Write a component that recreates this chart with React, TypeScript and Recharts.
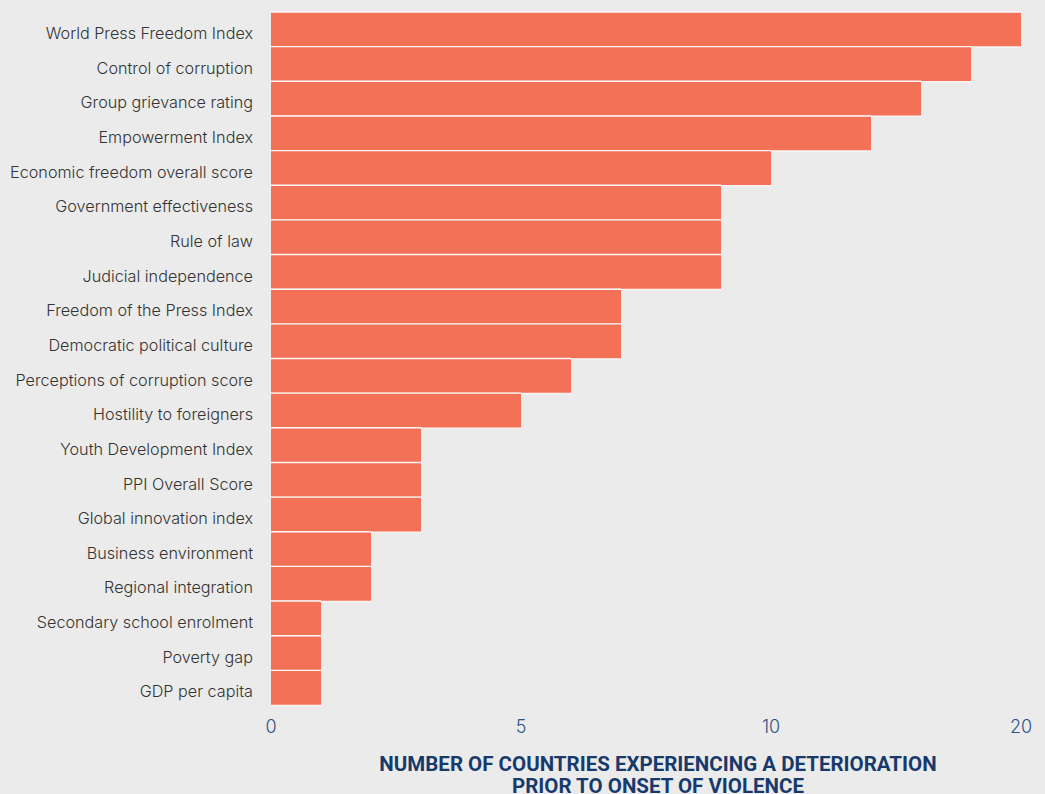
import React from "react";
import { BarChart, Bar, XAxis, YAxis } from "recharts";

const categories = [
  "World Press Freedom Index",
  "Control of corruption",
  "Group grievance rating",
  "Empowerment Index",
  "Economic freedom overall score",
  "Government effectiveness",
  "Rule of law",
  "Judicial independence",
  "Freedom of the Press Index",
  "Democratic political culture",
  "Perceptions of corruption score",
  "Hostility to foreigners",
  "Youth Development Index",
  "PPI Overall Score",
  "Global innovation index",
  "Business environment",
  "Regional integration",
  "Secondary school enrolment",
  "Poverty gap",
  "GDP per capita",
];
const counts = [15, 14, 13, 12, 10, 9, 9, 9, 7, 7, 6, 5, 3, 3, 3, 2, 2, 1, 1, 1];
const xTickValues = [0, 5, 10, 15];
const xTickLabels = ["0", "5", "10", "20"];
const axisTitle = [
  "NUMBER OF COUNTRIES EXPERIENCING A DETERIORATION",
  "PRIOR TO ONSET OF VIOLENCE",
];

const data = categories.map((name, i) => ({ name, value: counts[i] }));

const BAR = "#f37257";
const BG = "#ebebeb";

const BarShape = (props: any) => {
  const { x, y, width, height } = props;
  return (
    <g>
      <rect x={x} y={y} width={width} height={height} fill={BAR} />
      <line x1={x} x2={x + width} y1={y} y2={y} stroke="#f7f7f7" strokeWidth={1.4} />
      <line x1={x} x2={x + width} y1={y + height} y2={y + height} stroke="#f7f7f7" strokeWidth={1.4} />
    </g>
  );
};

const TitleLabel = (props: any) => {
  const vb = props.viewBox || {};
  const cx = vb.x + vb.width / 2 + 12;
  const y0 = vb.y;
  return (
    <g>
      {axisTitle.map((t, i) => (
        <text
          key={i}
          x={cx}
          y={y0 + 66 + i * 22}
          textAnchor="middle"
          fill="#173a6b"
          fontFamily="'Liberation Sans Narrow', 'Roboto', sans-serif"
          fontWeight={700}
          fontSize={20.5}
        >
          {t}
        </text>
      ))}
    </g>
  );
};

export default function App() {
  return (
    <div
      style={{
        position: "fixed",
        left: 0,
        top: 0,
        width: 1045,
        height: 794,
        background: BG,
        overflow: "hidden",
      }}
    >
      <BarChart
        width={1045}
        height={794}
        data={data}
        layout="vertical"
        margin={{ top: 12, right: 24, bottom: 0, left: 0 }}
        barCategoryGap={0}
      >
        <XAxis
          type="number"
          domain={[0, 15]}
          ticks={xTickValues}
          tickFormatter={(v: number) => xTickLabels[xTickValues.indexOf(v)]}
          axisLine={false}
          tickLine={false}
          tickSize={0}
          tickMargin={15}
          height={89}
          tick={{ fill: "#2f5387", fontSize: 18, fontFamily: "Inter, sans-serif", fontWeight: 300 }}
          label={<TitleLabel />}
        />
        <YAxis
          type="category"
          dataKey="name"
          width={271}
          axisLine={false}
          tickLine={false}
          tickSize={0}
          tickMargin={18}
          interval={0}
          tick={{ fill: "#333333", fontSize: 16.2, fontFamily: "Inter, sans-serif", fontWeight: 300, dy: 4 }}
        />
        <Bar dataKey="value" fill={BAR} shape={<BarShape />} isAnimationActive={false} />
      </BarChart>
    </div>
  );
}
